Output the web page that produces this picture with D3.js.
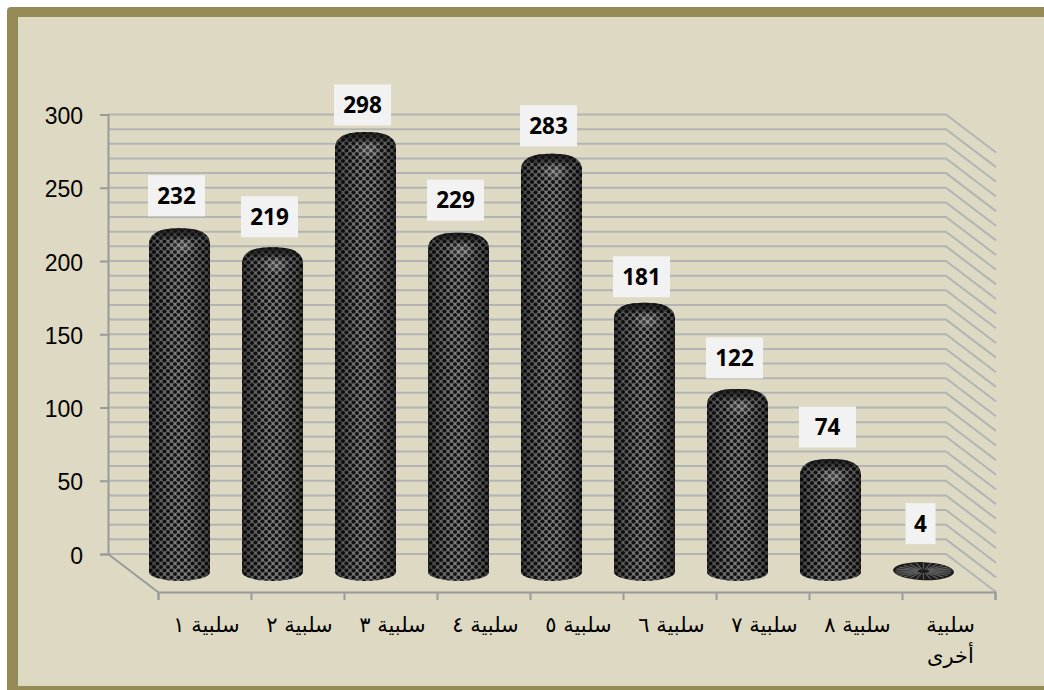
<!DOCTYPE html>
<html><head><meta charset="utf-8">
<script src="https://cdnjs.cloudflare.com/ajax/libs/d3/7.8.5/d3.min.js"></script>
<style>html,body{margin:0;padding:0;background:#fff}svg{display:block}</style>
</head><body><div id="c"></div>
<script>
const categories = ["سلبية ١","سلبية ٢","سلبية ٣","سلبية ٤","سلبية ٥","سلبية ٦","سلبية ٧","سلبية ٨","سلبية أخرى"];
const values = [232,219,298,229,283,181,122,74,4];
const yTicks = [0,50,100,150,200,250,300];
const gridValues = d3.range(0,301,10);

const W=1044,H=690;
const svg=d3.select("#c").append("svg").attr("width",W).attr("height",H);
const defs=svg.append("defs");

// frame
svg.append("rect").attr("x",7).attr("y",7).attr("width",W).attr("height",H).attr("rx",4).attr("fill","#948A54");
svg.append("rect").attr("x",18).attr("y",17).attr("width",W).attr("height",669).attr("fill","#DDD9C3");

// scales
const depthX=50, depthY=38;
const x=d3.scaleBand().domain(categories).range([158,995]).padding(0);
const yWall=d3.scaleLinear().domain([0,300]).range([554,114.5]);
const yBar=d3.scaleLinear().domain([0,300]).range([576,138]);
const wallLeft=108, wallRight=946;

// grid
const grid=svg.append("g").attr("fill","none").attr("stroke","#B4B4B4").attr("stroke-width",2);
grid.selectAll("path").data(gridValues).join("path")
  .attr("d",d=>`M${wallLeft},${yWall(d)}H${wallRight}L${wallRight+depthX},${yWall(d)+depthY}`);

// y axis
const yAxis=d3.axisLeft(yWall).tickValues(yTicks).tickSize(8).tickPadding(17);
const gy=svg.append("g").attr("transform",`translate(${wallLeft},0)`).call(yAxis);
gy.selectAll("path,line").attr("stroke","#9A9A9A").attr("stroke-width",2);
gy.selectAll("text").attr("font-family","Liberation Sans").attr("font-size",23).attr("fill","#000").attr("dy","0.4em");

// floor
svg.append("path").attr("fill","none").attr("stroke","#9A9A9A").attr("stroke-width",2)
  .attr("d",`M${wallLeft},${yWall(0)}L${wallLeft+depthX},${yWall(0)+depthY}`);

// x axis
const xAxis=d3.axisBottom(d3.scaleLinear().domain([0,categories.length]).range(x.range()))
  .ticks(categories.length).tickSize(8).tickFormat("");
const gx=svg.append("g").attr("transform",`translate(0,${yWall(0)+depthY})`).call(xAxis);
gx.selectAll("path,line").attr("stroke","#9A9A9A").attr("stroke-width",2);

// x labels
const xl=svg.append("g").attr("font-family","DejaVu Sans").attr("font-size",21).attr("fill","#000").attr("text-anchor","middle");
xl.selectAll("text").data(categories).join("text")
  .attr("direction","rtl")
  .attr("y",632)
  .each(function(d){
    const parts=d.split(" "), lines=/[٠-٩]/.test(d)?[d]:parts;
    d3.select(this).selectAll("tspan").data(lines).join("tspan")
      .attr("x",x(d)+x.bandwidth()/2+2).attr("dy",(l,i)=>i?31:0).text(l=>l);
  });

// patterns
const pat=defs.append("pattern").attr("id","weave").attr("patternUnits","userSpaceOnUse").attr("width",7).attr("height",7);
pat.append("rect").attr("width",7).attr("height",7).attr("fill","#868686");
[[0,0],[7,0],[0,7],[7,7],[3.5,3.5]].forEach(p=>pat.append("circle").attr("cx",p[0]).attr("cy",p[1]).attr("r",2.1).attr("fill","#161616"));
const shade=defs.append("linearGradient").attr("id","shade");
[[0,.58],[.14,.34],[.42,.08],[.62,.08],[.88,.34],[1,.58]].forEach(s=>
  shade.append("stop").attr("offset",s[0]).attr("stop-color","#000").attr("stop-opacity",s[1]));
const glow=defs.append("radialGradient").attr("id","glow");
glow.append("stop").attr("offset",0).attr("stop-color","#fff").attr("stop-opacity",.22);
glow.append("stop").attr("offset",1).attr("stop-color","#fff").attr("stop-opacity",0);
const cap=defs.append("linearGradient").attr("id","cap").attr("x1",0).attr("x2",0).attr("y1",0).attr("y2",1);
[[0,.9],[.6,.5],[1,0]].forEach(s=>cap.append("stop").attr("offset",s[0]).attr("stop-color","#111").attr("stop-opacity",s[1]));

// cylinders
const rx=30.5, ry=9, baseY=572;
const cx=d=>x(d)+x.bandwidth()/2-25;
const bars=svg.append("g").selectAll("g").data(values).join("g");
bars.each(function(v,i){
  const g=d3.select(this), c=categories[i], mx=cx(c), top=yBar(v);
  const small=baseY-top<=10;
  if(!small){
    const t=top-ry;
    const body=`M${mx-rx},${t+17}C${mx-rx},${t+4} ${mx-rx*.62},${t} ${mx},${t}C${mx+rx*.62},${t} ${mx+rx},${t+4} ${mx+rx},${t+17}V${baseY}A${rx},${ry} 0 0 1 ${mx-rx},${baseY}Z`;
    g.append("path").attr("d",body).attr("fill","url(#weave)");
    g.append("path").attr("d",body).attr("fill","url(#shade)");
    g.append("ellipse").attr("cx",mx+3).attr("cy",top+9).attr("rx",14).attr("ry",9).attr("fill","url(#glow)");
    g.append("ellipse").attr("cx",mx).attr("cy",top-3).attr("rx",rx-6).attr("ry",ry-3).attr("fill","url(#cap)");
  } else {
    const cy=top+1;
    g.append("ellipse").attr("cx",mx).attr("cy",cy).attr("rx",rx).attr("ry",ry).attr("fill","#1b1b1b").attr("transform",`rotate(2 ${mx} ${cy})`);
    g.append("g").attr("stroke","#5c5c5c").attr("stroke-width",1.3)
      .selectAll("line").data(d3.range(0,360,15)).join("line")
      .attr("x1",a=>mx+rx*.2*Math.cos(a*Math.PI/180)).attr("y1",a=>cy+ry*.2*Math.sin(a*Math.PI/180))
      .attr("x2",a=>mx+rx*.92*Math.cos(a*Math.PI/180)).attr("y2",a=>cy+ry*.92*Math.sin(a*Math.PI/180));
  }
});

// data labels (hand-placed in the source chart, so each has a small lift)
const lift={232:41.5,219:39.5,298:36,229:41.5,283:37,181:35,122:40,74:41,4:46.5};
const lab=svg.append("g").selectAll("g").data(values).join("g")
  .attr("transform",(v,i)=>`translate(${cx(categories[i])-3},${yBar(v)-lift[v]})`);
lab.append("rect").attr("x",v=>v<10?-15:-28.5).attr("y",-20.5).attr("width",v=>v<10?30:57).attr("height",41).attr("fill","#F2F2F2");
lab.append("text").attr("text-anchor","middle").attr("dy","0.36em")
  .attr("font-family","Open Sans").attr("font-weight",700).attr("font-size",22.5).attr("fill","#000").text(v=>v);
</script></body></html>
